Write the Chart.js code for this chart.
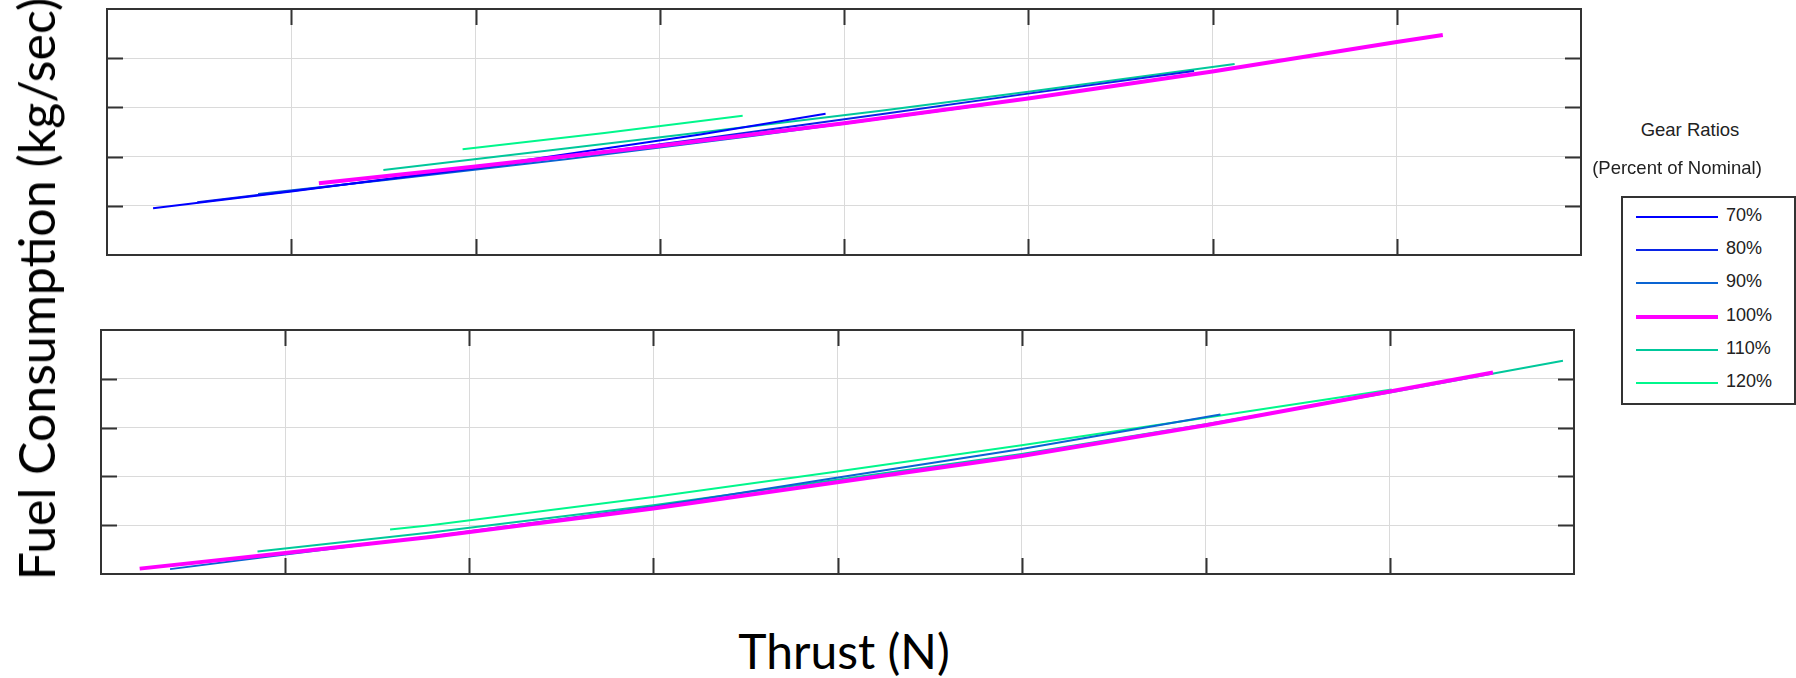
<!DOCTYPE html>
<html>
<head>
<meta charset="UTF-8">
<title>Fuel Consumption vs Thrust</title>
<script src="https://cdn.jsdelivr.net/npm/chart.js"></script>
<style>
    body { margin: 0; background: #fff; width: 1796px; height: 678px; position: relative; overflow: hidden; font-family: 'Liberation Sans', Arial, sans-serif; }
    canvas { position: absolute; left: 0; }
    #c-top { top: 0; }
    #c-bot { top: 310px; }
    .ylab {
        position: absolute; left: 36px; top: 289px;
        transform: translate(-50%, -50%) rotate(-90deg);
        font-family: Lato, sans-serif; font-size: 50px; white-space: nowrap; color: #000;
    }
    .xlab {
        position: absolute; left: 844px; top: 650px;
        transform: translate(-50%, -50%);
        font-family: Lato, sans-serif; font-size: 48px; white-space: nowrap; color: #000;
    }
    .leg-title { position: absolute; font-size: 18.5px; color: #222; white-space: nowrap; transform: translate(-50%, -50%); }
    .leg-box { position: absolute; left: 1621px; top: 196px; width: 171px; height: 205px; border: 2px solid #333; }
    .leg-row { position: absolute; left: 13px; height: 20px; }
    .leg-line { position: absolute; left: 0; width: 82px; }
    .leg-txt { position: absolute; left: 90px; top: -12px; font-size: 18px; color: #222; }
</style>
</head>
<body>

<canvas id="c-top" width="1600" height="270"></canvas>
<canvas id="c-bot" width="1600" height="280"></canvas>

<div class="ylab">Fuel Consumption (kg/sec)</div>
<div class="xlab">Thrust (N)</div>

<div class="leg-title" style="left:1690px; top:130px;">Gear Ratios</div>
<div class="leg-title" style="left:1677px; top:168px;">(Percent of Nominal)</div>
<div class="leg-box" id="legend"></div>

<script>
// gear ratio labels and colours
const gearLabels = ['70%', '80%', '90%', '100%', '110%', '120%'];
const gearColors = ['#0000ff', '#0a24e6', '#0a64d2', '#ff00ff', '#00c89b', '#00f78c'];
const gearWidths = [2, 2, 2, 4, 2, 2];

// axis limits / grid ticks (no tick labels shown in the original)
const xTicks = [0, 1, 2, 3, 4, 5, 6, 7, 8];
const yTicks = [0, 1, 2, 3, 4, 5];

// top panel
const topX70 = [0.25, 1.0, 2.0, 3.22, 3.9];
const topY70 = [0.95, 1.29, 1.78, 2.45, 2.87];
const topX80 = [0.49, 1.0, 2.0, 3.22, 4.2, 5.0, 5.9];
const topY80 = [1.07, 1.30, 1.76, 2.36, 2.86, 3.28, 3.74];
const topX90 = [0.82, 1.5, 2.5, 3.5, 4.78];
const topY90 = [1.24, 1.52, 1.95, 2.42, 3.06];
const topX100 = [1.15, 2.0, 3.0, 4.0, 5.0, 6.0, 7.0, 7.25];
const topY100 = [1.46, 1.80, 2.22, 2.68, 3.18, 3.73, 4.33, 4.47];
const topX110 = [1.5, 2.5, 3.22, 4.2, 5.0, 6.12];
const topY110 = [1.73, 2.17, 2.49, 2.93, 3.32, 3.88];
const topX120 = [1.93, 2.7, 3.45];
const topY120 = [2.15, 2.48, 2.83];

// bottom panel
const botX90 = [0.375, 1.0, 1.79, 3.0, 3.96, 5.0, 6.08];
const botY90 = [0.10, 0.40, 0.77, 1.38, 1.95, 2.56, 3.27];
const botX100 = [0.21, 1.0, 1.79, 3.0, 3.96, 5.0, 6.0, 7.0, 7.56];
const botY100 = [0.11, 0.43, 0.76, 1.34, 1.86, 2.42, 3.05, 3.74, 4.13];
const botX110 = [0.85, 1.79, 3.0, 3.96, 5.0, 6.0, 7.0, 7.94];
const botY110 = [0.46, 0.85, 1.41, 1.91, 2.46, 3.07, 3.72, 4.37];
const botX120 = [1.57, 1.79, 3.0, 3.96, 5.0, 6.0, 7.01];
const botY120 = [0.91, 1.00, 1.58, 2.08, 2.64, 3.20, 3.78];

function pts(xs, ys) { return xs.map((x, i) => ({ x: x, y: ys[i] })); }

function ds(idx, xs, ys) {
    return {
        label: gearLabels[idx],
        data: pts(xs, ys),
        borderColor: gearColors[idx],
        borderWidth: gearWidths[idx],
        pointRadius: 0,
        fill: false,
        tension: 0,
        order: idx === 3 ? 0 : 1
    };
}

// box round the plot area with inward tick marks on all four sides
const framePlugin = {
    id: 'frame',
    afterDraw(chart) {
        const a = chart.chartArea, c = chart.ctx;
        const xs = chart.scales.x, ys = chart.scales.y;
        const len = 16;
        c.save();
        c.strokeStyle = '#333';
        c.lineWidth = 2;
        c.strokeRect(a.left, a.top, a.right - a.left, a.bottom - a.top);
        c.beginPath();
        xTicks.slice(1, -1).forEach(v => {
            const px = Math.round(xs.getPixelForValue(v)) + 0.5;
            c.moveTo(px, a.top); c.lineTo(px, a.top + len);
            c.moveTo(px, a.bottom); c.lineTo(px, a.bottom - len);
        });
        yTicks.slice(1, -1).forEach(v => {
            const py = Math.round(ys.getPixelForValue(v)) + 0.5;
            c.moveTo(a.left, py); c.lineTo(a.left + len, py);
            c.moveTo(a.right, py); c.lineTo(a.right - len, py);
        });
        c.stroke();
        c.restore();
    }
};

function makeChart(id, datasets, pad) {
    return new Chart(document.getElementById(id), {
        type: 'line',
        data: { datasets: datasets },
        options: {
            responsive: false,
            animation: false,
            layout: { padding: pad },
            plugins: { legend: { display: false }, tooltip: { enabled: false } },
            scales: {
                x: {
                    type: 'linear', min: xTicks[0], max: xTicks[xTicks.length - 1],
                    afterBuildTicks: s => { s.ticks = xTicks.map(v => ({ value: v })); },
                    ticks: { display: false },
                    grid: { color: '#dadada', lineWidth: 1, drawTicks: false },
                    border: { display: false }
                },
                y: {
                    min: yTicks[0], max: yTicks[yTicks.length - 1],
                    afterBuildTicks: s => { s.ticks = yTicks.map(v => ({ value: v })); },
                    ticks: { display: false },
                    grid: { color: '#dadada', lineWidth: 1, drawTicks: false },
                    border: { display: false }
                }
            }
        },
        plugins: [framePlugin]
    });
}

makeChart('c-top', [
    ds(0, topX70, topY70),
    ds(1, topX80, topY80),
    ds(2, topX90, topY90),
    ds(3, topX100, topY100),
    ds(4, topX110, topY110),
    ds(5, topX120, topY120)
], { left: 107, top: 9, right: 19, bottom: 15 });

makeChart('c-bot', [
    ds(2, botX90, botY90),
    ds(3, botX100, botY100),
    ds(4, botX110, botY110),
    ds(5, botX120, botY120)
], { left: 101, top: 20, right: 26, bottom: 16 });

// legend entries
const leg = document.getElementById('legend');
gearLabels.forEach((lab, i) => {
    const row = document.createElement('div');
    row.className = 'leg-row';
    row.style.top = (19 + i * 33.2) + 'px';
    row.innerHTML = '<div class="leg-line" style="height:' + gearWidths[i] + 'px; top:' + (-gearWidths[i] / 2) +
        'px; background:' + gearColors[i] + ';"></div><div class="leg-txt">' + lab + '</div>';
    leg.appendChild(row);
});
</script>
</body>
</html>
